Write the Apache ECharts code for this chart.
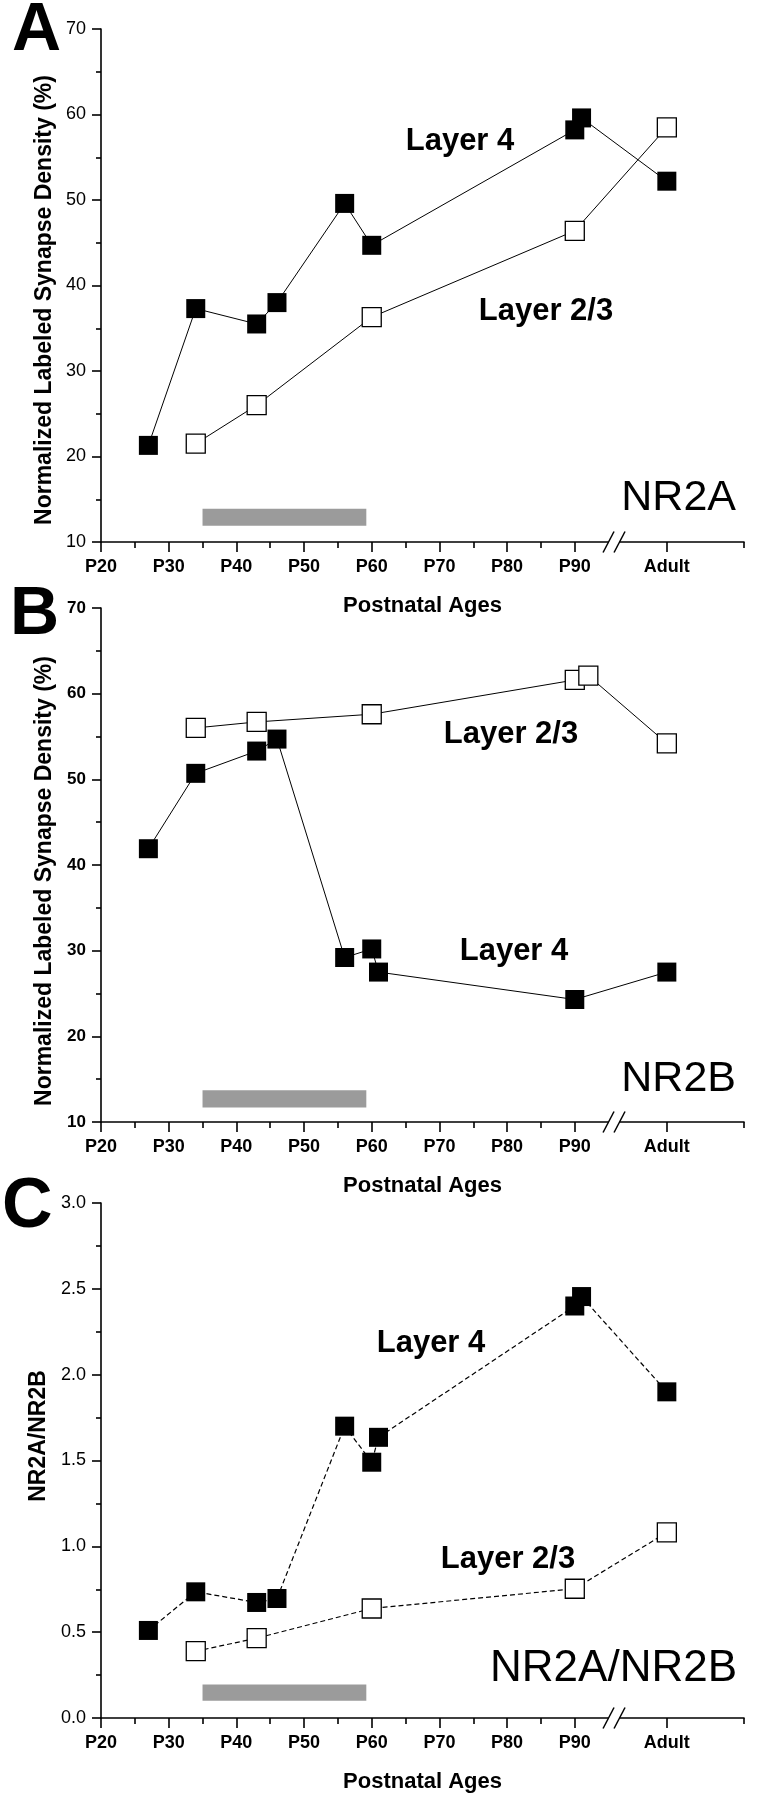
<!DOCTYPE html>
<html><head><meta charset="utf-8">
<script src="https://cdn.jsdelivr.net/npm/echarts@6/dist/echarts.min.js"></script>
<style>html,body{margin:0;padding:0;background:#fff}#c{width:763px;height:1800px}</style>
</head><body><div id="c"></div>
<script>
// ---- axis categories / ticks ----
const xTickAges   = [20, 30, 40, 50, 60, 70, 80, 90, 'Adult'];
const xTickLabels = ['P20','P30','P40','P50','P60','P70','P80','P90','Adult'];
const xMinorAges  = [25, 35, 45, 55, 65, 75, 85, 115];
const ADULT_X = 103.6;   // axis position used for the "Adult" group
const BREAK_X = 95.8;    // axis break between P90 and Adult
const X_MIN = 20, X_MAX = 115;

// ---- Panel A: NR2A ----
const aL4Ages  = [27, 34, 43, 46, 56, 60, 90, 91, 'Adult'];
const aL4Vals  = [21.3, 37.3, 35.5, 38.0, 49.6, 44.7, 58.2, 59.6, 52.2];
const aL23Ages = [34, 43, 60, 90, 'Adult'];
const aL23Vals = [21.5, 26.0, 36.3, 46.4, 58.5];

// ---- Panel B: NR2B ----
const bL4Ages  = [27, 34, 43, 46, 56, 60, 61, 90, 'Adult'];
const bL4Vals  = [41.9, 50.7, 53.3, 54.7, 29.2, 30.2, 27.5, 24.3, 27.5];
const bL23Ages = [34, 43, 60, 90, 92, 'Adult'];
const bL23Vals = [56.0, 56.7, 57.6, 61.6, 62.1, 54.2];

// ---- Panel C: NR2A/NR2B ----
const cL4Ages  = [27, 34, 43, 46, 56, 60, 61, 90, 91, 'Adult'];
const cL4Vals  = [0.51, 0.735, 0.673, 0.696, 1.70, 1.49, 1.635, 2.40, 2.455, 1.90];
const cL23Ages = [34, 43, 60, 90, 'Adult'];
const cL23Vals = [0.389, 0.465, 0.638, 0.753, 1.081];

// ---- grey critical-period bar (ages) and its vertical extent per panel ----
const barAges = [35, 59.2];
const barA = [11.9, 13.9];
const barB = [11.7, 13.7];
const barC = [0.1, 0.195];

const FONT = "'Liberation Sans', Arial, Helvetica, sans-serif";
const toX = a => (a === 'Adult' ? ADULT_X : a);
const pairs = (ages, vals) => ages.map((a, i) => [toX(a), vals[i]]);
const tickVals = xTickAges.map(toX);

const panels = [
  { top: 29, height: 513, yMin: 10, yMax: 70, yInt: 10, yBold: false, dec: 0,
    l4: pairs(aL4Ages, aL4Vals), l23: pairs(aL23Ages, aL23Vals), bar: barA, dashed: false },
  { top: 608, height: 514, yMin: 10, yMax: 70, yInt: 10, yBold: true, dec: 0,
    l4: pairs(bL4Ages, bL4Vals), l23: pairs(bL23Ages, bL23Vals), bar: barB, dashed: false },
  { top: 1203, height: 515, yMin: 0, yMax: 3, yInt: 0.5, yBold: false, dec: 1,
    l4: pairs(cL4Ages, cL4Vals), l23: pairs(cL23Ages, cL23Vals), bar: barC, dashed: true }
];

const grid = [], xAxis = [], yAxis = [], series = [];
const axisLineStyle = { color: '#000', width: 1.6 };
panels.forEach((p, i) => {
  grid.push({ left: 101, width: 643, top: p.top, height: p.height });
  xAxis.push({
    gridIndex: i, type: 'value', min: X_MIN, max: X_MAX, position: 'bottom',
    name: 'Postnatal Ages', nameLocation: 'middle', nameGap: 53,
    nameTextStyle: { fontFamily: FONT, fontWeight: 'bold', fontSize: 22, color: '#000' },
    axisLine: { show: true, onZero: false, lineStyle: axisLineStyle },
    axisTick: { show: true, inside: false, length: 10, customValues: tickVals, lineStyle: axisLineStyle },
    axisLabel: { show: true, margin: 16, customValues: tickVals, color: '#000',
      fontFamily: FONT, fontWeight: 'bold', fontSize: 18,
      formatter: v => { const k = tickVals.findIndex(t => Math.abs(t - v) < 1e-6); return k >= 0 ? xTickLabels[k] : ''; } },
    splitLine: { show: false }
  });
  xAxis.push({
    gridIndex: i, type: 'value', min: X_MIN, max: X_MAX, position: 'bottom', offset: 0,
    axisLine: { show: false, onZero: false },
    axisTick: { show: true, inside: false, length: 6, customValues: xMinorAges.map(toX), lineStyle: axisLineStyle },
    axisLabel: { show: false }, splitLine: { show: false }
  });
  yAxis.push({
    gridIndex: i, type: 'value', min: p.yMin, max: p.yMax, interval: p.yInt,
    axisLine: { show: true, onZero: false, lineStyle: axisLineStyle },
    axisTick: { show: true, inside: false, length: 9, lineStyle: axisLineStyle },
    minorTick: { show: true, splitNumber: 2, length: 5, lineStyle: axisLineStyle },
    splitLine: { show: false }, minorSplitLine: { show: false },
    axisLabel: { margin: 15, color: '#000', fontFamily: FONT, fontSize: p.yBold ? 17 : 18,
      fontWeight: p.yBold ? 'bold' : 'normal', showMinLabel: true, showMaxLabel: true,
      formatter: v => v.toFixed(p.dec) }
  });
  const lineStyle = { color: '#000', width: p.dashed ? 1.2 : 1, type: p.dashed ? [5, 3] : 'solid' };
  series.push({
    type: 'line', name: 'Layer 2/3', xAxisIndex: 2 * i, yAxisIndex: i, data: p.l23,
    symbol: 'rect', symbolSize: 19, lineStyle, z: 3,
    itemStyle: { color: '#fff', borderColor: '#000', borderWidth: 1.3 },
    emphasis: { disabled: true }, silent: true,
    markArea: { silent: true, itemStyle: { color: '#9b9b9b', opacity: 1 },
      data: [[{ coord: [barAges[0], p.bar[0]] }, { coord: [barAges[1], p.bar[1]] }]] }
  });
  series.push({
    type: 'line', name: 'Layer 4', xAxisIndex: 2 * i, yAxisIndex: i, data: p.l4,
    symbol: 'rect', symbolSize: 19, lineStyle, z: 4,
    itemStyle: { color: '#000', borderColor: '#000', borderWidth: 0 },
    emphasis: { disabled: true }, silent: true
  });
  series.push({
    type: 'custom', xAxisIndex: 2 * i, yAxisIndex: i, data: [[BREAK_X, p.yMin]],
    clip: false, z: 10, silent: true,
    renderItem: (params, api) => {
      const c = api.coord([api.value(0), api.value(1)]);
      const dx = 5.5, w = 5.5, h = 10.5;
      return { type: 'group', children: [
        { type: 'rect', shape: { x: c[0] - dx, y: c[1] - 3, width: 2 * dx, height: 6 }, style: { fill: '#fff' } },
        { type: 'line', shape: { x1: c[0] - dx - w, y1: c[1] + h, x2: c[0] - dx + w, y2: c[1] - h }, style: { stroke: '#000', lineWidth: 1.5 } },
        { type: 'line', shape: { x1: c[0] + dx - w, y1: c[1] + h, x2: c[0] + dx + w, y2: c[1] - h }, style: { stroke: '#000', lineWidth: 1.5 } }
      ] };
    }
  });
});

const txt = (text, x, y, size, weight, align, rot) => ({
  type: 'text', x, y, rotation: rot || 0, silent: true,
  style: { text, fill: '#000', font: `${weight} ${size}px ${FONT}`, textAlign: align, textVerticalAlign: 'middle' }
});
const graphic = [
  txt('A', 12, 31, 68, 'bold', 'left'),
  txt('B', 10, 615, 68, 'bold', 'left'),
  txt('C', 2, 1208, 70, 'bold', 'left'),
  txt('Normalized Labeled Synapse Density (%)', 45, 300, 23, 'bold', 'center', Math.PI / 2),
  txt('Normalized Labeled Synapse Density (%)', 45, 881, 23, 'bold', 'center', Math.PI / 2),
  txt('NR2A/NR2B', 39, 1436, 23, 'bold', 'center', Math.PI / 2),
  txt('Layer 4', 460, 141, 31, 'bold', 'center'),
  txt('Layer 2/3', 546, 311, 31, 'bold', 'center'),
  txt('Layer 2/3', 511, 734, 31, 'bold', 'center'),
  txt('Layer 4', 514, 951, 31, 'bold', 'center'),
  txt('Layer 4', 431, 1343, 31, 'bold', 'center'),
  txt('Layer 2/3', 508, 1559, 31, 'bold', 'center'),
  txt('NR2A', 736, 498, 43, 'normal', 'right'),
  txt('NR2B', 736, 1079, 43, 'normal', 'right'),
  txt('NR2A/NR2B', 737, 1669, 44, 'normal', 'right')
];

const chart = echarts.init(document.getElementById('c'), null, { renderer: 'canvas' });
chart.setOption({ animation: false, backgroundColor: '#fff', grid, xAxis, yAxis, series, graphic });
</script></body></html>
